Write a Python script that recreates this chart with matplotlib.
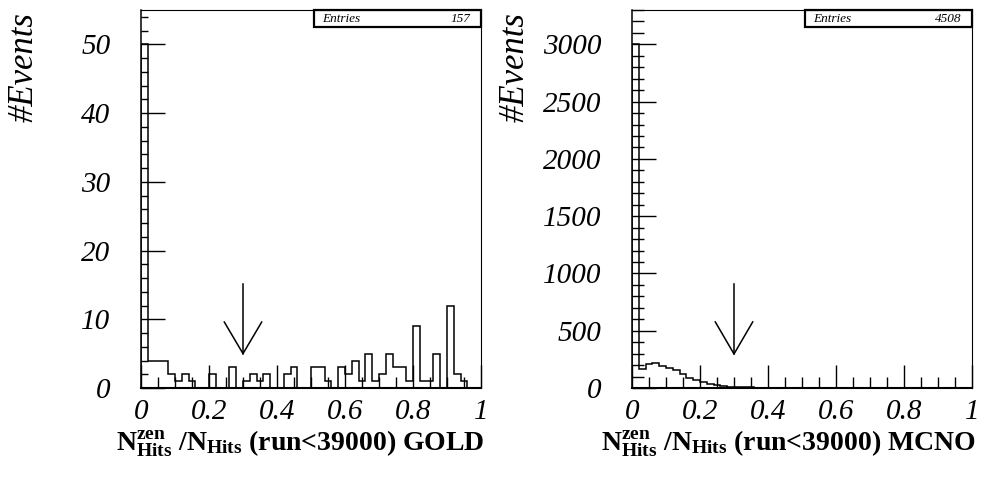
import numpy as np
import matplotlib.pyplot as plt
from matplotlib.ticker import MultipleLocator
from matplotlib.patches import Rectangle

plt.rcParams['font.family'] = 'Liberation Serif'
plt.rcParams['mathtext.fontset'] = 'custom'
plt.rcParams['mathtext.rm'] = 'Liberation Serif:bold'
plt.rcParams['mathtext.it'] = 'Liberation Serif:bold'
plt.rcParams['mathtext.bf'] = 'Liberation Serif:bold'

# 50 bins from 0 to 1
edges = np.linspace(0, 1, 51)

gold_counts = [50, 4, 4, 4, 2, 1, 2, 1, 0, 0,
               2, 0, 0, 3, 0, 1, 2, 1, 2, 0,
               0, 2, 3, 0, 0, 3, 3, 1, 0, 3,
               2, 4, 1, 5, 1, 2, 5, 3, 3, 1,
               9, 1, 1, 5, 0, 12, 2, 1, 0, 0]
mcno_counts = [3000, 170, 206, 215, 190, 176, 156, 126, 88, 68,
               53, 38, 29, 18, 12, 9, 6, 5, 4, 3,
               3, 2, 2, 1, 1, 1, 1, 0, 0, 0,
               0, 0, 0, 0, 0, 0, 0, 0, 0, 0,
               0, 0, 0, 0, 0, 0, 0, 0, 0, 0]
gold_entries = 157
mcno_entries = 4508

x_ticks = [0, 0.2, 0.4, 0.6, 0.8, 1]
x_tick_labels = ['0', '0.2', '0.4', '0.6', '0.8', '1']
gold_yticks = [0, 10, 20, 30, 40, 50]
mcno_yticks = [0, 500, 1000, 1500, 2000, 2500, 3000]

cut = 0.3
gold_arrow = (15.1, 5.0, 4.6)     # top, tip, head height
mcno_arrow = (904, 297, 280)

W, H = 996, 482
fig = plt.figure(figsize=(W / 100, H / 100), dpi=100)


def make_axes(left_px, counts, yticks, ymax, yminor, yminor_len, arrow, entries, title):
    ax = fig.add_axes([left_px / W, (H - 388) / H, 340 / W, 378 / H])
    ax.stairs(counts, edges, color='k', lw=1.1)
    ax.set_xlim(0, 1)
    ax.set_ylim(0, ymax)

    # cut arrow
    top, tip, hh = arrow
    ax.plot([cut, cut], [top, tip], color='k', lw=1.1)
    ax.plot([cut - 0.055, cut, cut + 0.055], [tip + hh, tip, tip + hh], color='k', lw=1.1)

    ax.set_xticks(x_ticks)
    ax.set_xticklabels(x_tick_labels)
    ax.xaxis.set_minor_locator(MultipleLocator(0.05))
    ax.set_yticks(yticks)
    ax.set_yticklabels([str(v) for v in yticks])
    ax.yaxis.set_minor_locator(MultipleLocator(yminor))
    ax.tick_params(which='both', direction='in', top=False, right=False, width=1.0)
    ax.tick_params(axis='x', which='major', length=16.5, pad=8, labelsize=21)
    ax.tick_params(axis='x', which='minor', length=8)
    ax.tick_params(axis='y', which='major', length=17.3, pad=22, labelsize=21)
    ax.tick_params(axis='y', which='minor', length=yminor_len)
    for lab in ax.get_xticklabels() + ax.get_yticklabels():
        lab.set_fontstyle('italic')
    ax.spines['left'].set_linewidth(1.1)
    ax.spines['bottom'].set_linewidth(1.5)
    ax.spines['top'].set_linewidth(0.8)
    ax.spines['right'].set_linewidth(0.8)

    # stats box
    ax.add_patch(Rectangle((0.509, 0.955), 0.491, 0.045, transform=ax.transAxes,
                           fill=False, lw=1.6, edgecolor='k', clip_on=False))
    ax.text(0.532, 0.977, 'Entries', transform=ax.transAxes, fontsize=9.5,
            style='italic', ha='left', va='center')
    ax.text(0.97, 0.977, str(entries), transform=ax.transAxes, fontsize=9.5,
            style='italic', ha='right', va='center')

    fig.text((left_px - 117) / W, 1 - 12 / H, '#Events', rotation=90, fontsize=25,
             style='italic', ha='center', va='top')
    fig.text((left_px + 344) / W, 1 - 444 / H, title, fontsize=20, fontweight='bold',
             ha='right', va='center')
    return ax


gold_title = r'$\mathbf{N^{zen}_{Hits}}$ $\mathbf{/N_{Hits}}$ (run<39000) GOLD'
mcno_title = r'$\mathbf{N^{zen}_{Hits}}$ $\mathbf{/N_{Hits}}$ (run<39000) MCNO'

make_axes(141, gold_counts, gold_yticks, 55, 2, 4.9, gold_arrow, gold_entries, gold_title)
make_axes(632, mcno_counts, mcno_yticks, 3300, 100, 8.6, mcno_arrow, mcno_entries, mcno_title)

fig.savefig('out.png', dpi=100)
